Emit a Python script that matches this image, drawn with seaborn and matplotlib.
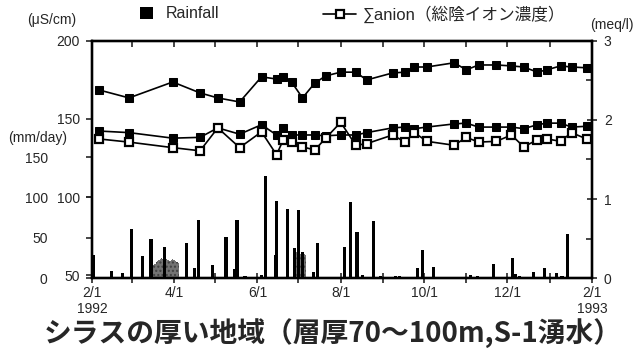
import numpy as np
import pandas as pd
import seaborn as sns
import matplotlib.pyplot as plt
from matplotlib.lines import Line2D

# water quality sampling dates
sample_dates = ['1992-02-06', '1992-02-28', '1992-03-31', '1992-04-20', '1992-05-03', '1992-05-19',
                '1992-06-04', '1992-06-15', '1992-06-20', '1992-06-26', '1992-07-04', '1992-07-13',
                '1992-07-21', '1992-08-01', '1992-08-12', '1992-08-20', '1992-09-08', '1992-09-17',
                '1992-09-24', '1992-10-03', '1992-10-23', '1992-11-01', '1992-11-10', '1992-11-23',
                '1992-12-04', '1992-12-13', '1992-12-23', '1992-12-30', '1993-01-09', '1993-01-17',
                '1993-01-28']
# electric conductivity (uS/cm)
ec = [168.6, 163.5, 173.7, 166.7, 163.5, 160.9, 177.0, 175.6, 177.0, 173.7, 163.5, 173.0,
      177.6, 180.0, 180.0, 175.0, 179.5, 180.0, 183.3, 183.3, 186.0, 181.5, 184.6, 184.6,
      184.0, 183.3, 180.0, 181.5, 184.0, 183.3, 182.8]
# total cation (meq/l)
cation = [1.86, 1.84, 1.77, 1.78, 1.90, 1.82, 1.94, 1.81, 1.90, 1.81, 1.81, 1.81,
          1.80, 1.81, 1.81, 1.84, 1.90, 1.91, 1.89, 1.91, 1.95, 1.96, 1.91, 1.91,
          1.91, 1.89, 1.94, 1.96, 1.96, 1.91, 1.92]
# total anion (meq/l)
anion = [1.76, 1.72, 1.65, 1.61, 1.90, 1.65, 1.85, 1.56, 1.75, 1.72, 1.66, 1.62,
         1.77, 1.97, 1.68, 1.70, 1.81, 1.72, 1.84, 1.73, 1.68, 1.78, 1.72, 1.73,
         1.81, 1.66, 1.75, 1.76, 1.73, 1.84, 1.76]

# daily rainfall (mm/day)
rain_dates = ['1992-02-02', '1992-02-15', '1992-02-23', '1992-03-01', '1992-03-09', '1992-03-15',
              '1992-03-25', '1992-04-10', '1992-04-16', '1992-04-19', '1992-04-29', '1992-05-09',
              '1992-05-15', '1992-05-17', '1992-05-23', '1992-06-04', '1992-06-07', '1992-06-14',
              '1992-06-15', '1992-06-23', '1992-06-28', '1992-07-01', '1992-07-04', '1992-07-12',
              '1992-07-15', '1992-08-04', '1992-08-08', '1992-08-13', '1992-08-17', '1992-08-25',
              '1992-08-30', '1992-09-10', '1992-09-13', '1992-09-26', '1992-09-30', '1992-10-08',
              '1992-10-24', '1992-11-04', '1992-11-09', '1992-11-21', '1992-12-05', '1992-12-07',
              '1992-12-10', '1992-12-20', '1992-12-28', '1993-01-06', '1993-01-10', '1993-01-14',
              '1993-01-27']
rain = [29, 9, 6, 61, 27, 49, 38, 44, 12, 72, 16, 51,
        11, 72, 2, 4, 127, 29, 95, 86, 37, 84, 32, 7,
        44, 39, 94, 57, 4, 71, 2, 3, 2, 12, 35, 14,
        1, 4, 2, 18, 25, 5, 3, 7, 13, 6, 3, 54,
        1]
# stippled (dense) rainfall periods
stip_dates = ['1992-03-17', '1992-03-18', '1992-03-19', '1992-03-20', '1992-03-21', '1992-03-22',
              '1992-03-23', '1992-03-24', '1992-03-26', '1992-03-27', '1992-03-28', '1992-03-29',
              '1992-03-30', '1992-03-31', '1992-04-01', '1992-04-02', '1992-04-03', '1992-04-04',
              '1992-06-29', '1992-06-30', '1992-07-02', '1992-07-03', '1992-07-05', '1992-07-06']
stip_rain = [16, 18, 20, 21, 22, 24, 25, 24, 23, 22, 22, 21,
             22, 23, 22, 21, 20, 19,
             30, 32, 31, 30, 30, 28]

month_ticks = pd.date_range('1992-02-01', '1993-02-01', freq='MS')
month_labels = ['2/1\n1992', '', '4/1', '', '6/1', '', '8/1', '', '10/1', '', '12/1', '', '2/1\n1993']

sns.set_style('ticks')
plt.rcParams['font.family'] = ['Liberation Sans', 'Noto Sans CJK JP', 'DejaVu Sans']

wq = pd.DataFrame({'date': pd.to_datetime(sample_dates), 'ec': ec, 'cation': cation, 'anion': anion})

fig = plt.figure(figsize=(6.4, 3.56), dpi=100)
ax = fig.add_axes([0.144, 0.219, 0.781, 0.666])
ax_c = ax.twinx()
ax_r = ax.twinx()

# rainfall bars
ax.bar(pd.to_datetime(stip_dates), stip_rain, width=1.0, color='0.45', hatch='....',
       edgecolor='0.25', linewidth=0)
bars = ax.bar(pd.to_datetime(rain_dates), rain, width=2.4, color='black', linewidth=0)
ax.set_ylim(0, 294)
ax.set_yticks([0, 50, 100, 150])
ax.tick_params(axis='y', direction='out', length=4, width=1.2, pad=28, labelsize=10)

# conductivity line
sns.lineplot(data=wq, x='date', y='ec', ax=ax_c, color='black', lw=1.2, marker='s',
             markersize=6, markerfacecolor='black', markeredgecolor='black')
ax_c.set_ylim(48.1, 200)
ax_c.set_yticks([50, 100, 150, 200])
ax_c.yaxis.tick_left()
ax_c.tick_params(axis='y', direction='out', length=4, width=1.2, pad=5, labelsize=10)

# ion lines
sns.lineplot(data=wq, x='date', y='cation', ax=ax_r, color='black', lw=1.2, marker='s',
             markersize=6, markerfacecolor='black', markeredgecolor='black')
sns.lineplot(data=wq, x='date', y='anion', ax=ax_r, color='black', lw=1.2, marker='s',
             markersize=6, markerfacecolor='white', markeredgecolor='black', markeredgewidth=1.6)
ax_r.set_ylim(0, 3)
ax_r.set_yticks([0, 1, 2, 3])
ax_r.set_yticks([0.5, 1.5, 2.5], minor=True)
ax_r.tick_params(axis='y', which='major', direction='inout', length=7, width=1.2, pad=5, labelsize=10)
ax_r.tick_params(axis='y', which='minor', direction='in', length=4, width=1.2)

for a in (ax, ax_c, ax_r):
    a.set_xlabel('')
    a.set_ylabel('')
    for s in a.spines.values():
        s.set_linewidth(1.6)
        s.set_color('black')

ax.set_xlim(pd.Timestamp('1992-02-01'), pd.Timestamp('1993-02-01'))
ax.set_xticks(month_ticks)
ax.set_xticklabels(month_labels)
ax.tick_params(axis='x', direction='inout', length=7, width=1.2, pad=2, labelsize=10)
ax_r.xaxis.set_visible(True)
ax_r.xaxis.set_ticks_position('top')
ax_r.tick_params(axis='x', direction='in', length=4, width=1.2, labeltop=False, labelbottom=False)
ax_r.set_xticks(month_ticks)

# unit labels
fig.text(52 / 640, 1 - 20 / 356, '(μS/cm)', ha='center', va='center', fontsize=10)
fig.text(38 / 640, 1 - 138 / 356, '(mm/day)', ha='center', va='center', fontsize=10)
fig.text(612 / 640, 1 - 25 / 356, '(meq/l)', ha='center', va='center', fontsize=10)

# legends
leg1 = fig.legend([bars], ['Rainfall'], loc='center left', bbox_to_anchor=(126 / 640, 1 - 14 / 356),
                  frameon=False, handlelength=0.8, handleheight=0.8, fontsize=11.5)
anion_handle = Line2D([], [], color='black', lw=1.2, marker='s', markersize=6,
                      markerfacecolor='white', markeredgecolor='black', markeredgewidth=1.6)
leg2 = fig.legend([anion_handle], ['∑anion（総陰イオン濃度）'], loc='center left',
                  bbox_to_anchor=(308 / 640, 1 - 14 / 356), frameon=False, handlelength=2.0,
                  handletextpad=0.4, fontsize=12)

fig.text(0.52, 1 - 333 / 356, 'シラスの厚い地域（層厚70〜100m,S-1湧水）', ha='center', va='center',
         fontsize=20, fontweight='bold', family=['Noto Sans CJK JP', 'DejaVu Sans'])

fig.savefig('out.png', dpi=100)
